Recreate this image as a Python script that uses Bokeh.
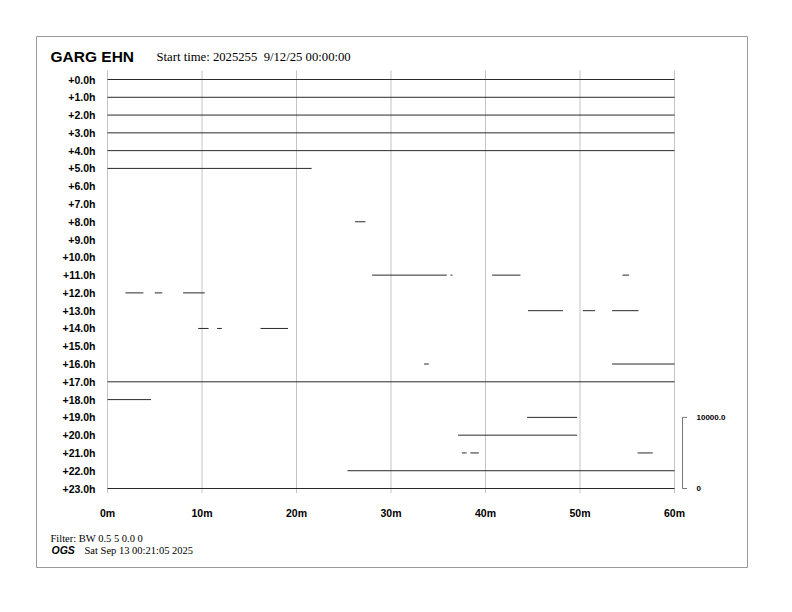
from bokeh.plotting import figure
from bokeh.models import Range1d
from bokeh.embed import file_html
from bokeh.resources import INLINE
from bokeh.core.properties import value

# ---------------- data ----------------
station = "GARG EHN"
start_text = "Start time: 2025255\u00a0\u00a09/12/25 00:00:00"
filter_text = "Filter: BW 0.5 5 0.0 0"
org_text = "OGS"
date_text = "Sat Sep 13 00:21:05 2025"

hour_rows = list(range(24))
hour_labels = ["+%d.0h" % h for h in hour_rows]
minute_ticks = [0, 10, 20, 30, 40, 50, 60]
minute_labels = ["0m", "10m", "20m", "30m", "40m", "50m", "60m"]

# trace segments present in each hour row (minutes)
seg_row = [0, 1, 2, 3, 4, 5, 8,
           11, 11, 11, 11,
           12, 12, 12,
           13, 13, 13,
           14, 14, 14,
           16, 16, 17, 18, 19, 20,
           21, 21, 21, 22, 23]
seg_start = [0, 0, 0, 0, 0, 0, 26.2,
             28.0, 36.3, 40.7, 54.5,
             1.9, 5.0, 8.0,
             44.5, 50.3, 53.4,
             9.6, 11.6, 16.2,
             33.5, 53.4, 0, 0, 44.4, 37.1,
             37.5, 38.4, 56.1, 25.4, 0]
seg_end = [60, 60, 60, 60, 60, 21.6, 27.3,
           35.9, 36.5, 43.7, 55.2,
           3.8, 5.8, 10.3,
           48.2, 51.6, 56.2,
           10.7, 12.1, 19.1,
           34.0, 60, 60, 4.6, 49.7, 49.7,
           38.0, 39.3, 57.7, 60, 60]

scale_label_top = "10000.0"
scale_label_bottom = "0"
scale_top_row = 19
scale_bottom_row = 23

# ---------------- layout ----------------
W, H = 776, 596
X0, PXM = 107.0, 9.45     # picture x of minute 0, pixels per minute
Y0, PYR = 79.0, 17.783    # picture y of row 0, pixels per row


def fx(page_x):
    return (page_x - X0) / PXM


def fy(page_y):
    return (page_y - Y0) / PYR


p = figure(width=W, height=H, output_backend="svg", toolbar_location=None,
           x_axis_type=None, y_axis_type=None, min_border=0,
           x_range=Range1d(-X0 / PXM, (W - X0) / PXM),
           y_range=Range1d((H - Y0) / PYR, -Y0 / PYR))
p.grid.visible = False
p.outline_line_color = None
p.background_fill_color = "white"
p.border_fill_color = "white"

SANS = value("Liberation Sans")
SERIF = value("Liberation Serif")

# outer frame
p.quad(left=[fx(36)], right=[fx(747)], top=[fy(36)], bottom=[fy(567)],
       fill_color=None, line_color="#9a9a9a", line_width=1)

# vertical minute grid lines
p.segment(x0=minute_ticks, y0=[fy(70)] * len(minute_ticks),
          x1=minute_ticks, y1=[fy(492.5)] * len(minute_ticks),
          line_color="#c4c4c4", line_width=1)

# traces
p.segment(x0=seg_start, y0=seg_row, x1=seg_end, y1=seg_row,
          line_color="#2a2a2a", line_width=1)

# row labels
p.text(x=[fx(95)] * len(hour_rows), y=hour_rows, text=hour_labels,
       text_align="right", text_baseline="middle", text_font=SANS,
       text_font_style="bold", text_font_size="10.5px", text_color="black")

# minute labels
p.text(x=minute_ticks, y=[fy(512)] * len(minute_ticks), text=minute_labels,
       text_align="center", text_baseline="middle", text_font=SANS,
       text_font_style="bold", text_font_size="10.5px", text_color="black")

# scale bar
sx = fx(682)
p.segment(x0=[sx, sx, sx], y0=[scale_top_row, scale_top_row, scale_bottom_row],
          x1=[sx, fx(686.5), fx(686.5)], y1=[scale_bottom_row, scale_top_row, scale_bottom_row],
          line_color="#777777", line_width=1)
p.text(x=[fx(696), fx(696)], y=[scale_top_row, scale_bottom_row],
       text=[scale_label_top, scale_label_bottom],
       text_align="left", text_baseline="middle", text_font=SANS,
       text_font_style="bold", text_font_size="8px", text_color="black")

# title
p.text(x=[fx(50)], y=[fy(55.5)], text=[station], text_align="left",
       text_baseline="middle", text_font=SANS, text_font_style="bold",
       text_font_size="15.5px", text_color="black")
p.text(x=[fx(156)], y=[fy(56.5)], text=[start_text], text_align="left",
       text_baseline="middle", text_font=SERIF,
       text_font_size="12.7px", text_color="black")

# footer
p.text(x=[fx(50)], y=[fy(537.5)], text=[filter_text], text_align="left",
       text_baseline="middle", text_font=SERIF,
       text_font_size="10.5px", text_color="black")
p.text(x=[fx(51)], y=[fy(549.5)], text=[org_text], text_align="left",
       text_baseline="middle", text_font=SANS, text_font_style="bold italic",
       text_font_size="10.5px", text_color="black")
p.text(x=[fx(84)], y=[fy(549.5)], text=[date_text], text_align="left",
       text_baseline="middle", text_font=SERIF,
       text_font_size="10.5px", text_color="black")

open("out.html", "w").write(file_html(p, INLINE))
